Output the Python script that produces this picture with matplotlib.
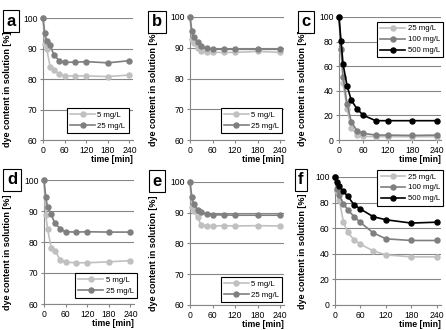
import matplotlib
matplotlib.use("Agg")
import matplotlib.pyplot as plt

plt.rcParams['font.family'] = ['Liberation Sans', 'DejaVu Sans']

W, H = 446, 330
t = [0, 5, 10, 20, 30, 45, 60, 90, 120, 180, 240]
xticks = [0, 60, 120, 180, 240]

a_5 = [100, 91.5, 90, 84, 83, 81.5, 81, 81, 81, 80.8, 81.3]
a_25 = [100, 95, 92.5, 91, 88, 86, 85.5, 85.5, 85.7, 85.3, 86]
b_5 = [100, 93, 91.5, 90, 89, 88.5, 88.5, 88.5, 88.5, 88.8, 88.5]
b_25 = [100, 95.5, 93.5, 92, 90.5, 89.8, 89.5, 89.5, 89.5, 89.5, 89.5]
c_25 = [100, 73, 46, 25, 10, 4, 3, 2.7, 2.7, 2.7, 2.7]
c_100 = [100, 74, 51, 29, 15, 7, 5.4, 4, 4, 3.7, 4]
c_500 = [100, 80.5, 61.6, 43.8, 32.4, 24.9, 20, 15.7, 15.7, 15.7, 15.7]
d_5 = [100, 88.7, 84.1, 78.2, 77.2, 74.3, 73.5, 73.3, 73.3, 73.6, 74]
d_25 = [100, 94.4, 91.2, 89, 86, 84.3, 83.3, 83.2, 83.3, 83.2, 83.2]
e_5 = [100, 92, 90.5, 88.5, 86, 85.7, 85.7, 85.8, 85.7, 85.8, 85.7]
e_25 = [100, 95, 92.7, 91, 90.2, 89.5, 89.3, 89.3, 89.2, 89.2, 89.2]
f_25 = [100, 88.8, 82, 64.7, 56.7, 51, 47.5, 42.3, 39.2, 37.6, 37.6]
f_100 = [100, 91, 86, 79, 74.4, 69, 64.5, 56.4, 51.7, 50.4, 50.4]
f_500 = [100, 95.8, 92.7, 88.8, 84.9, 78.3, 75, 69, 66.6, 64, 64.7]

LIGHT = '#c0c0c0'
MID = '#7f7f7f'
DARK = '#000000'
GRID = '#868686'

fig = plt.figure(figsize=(W / 100, H / 100), dpi=100)


def make_ax(left, right, top, bottom):
    return fig.add_axes([left / W, 1 - bottom / H, (right - left) / W, (bottom - top) / H])


panels = [
    # letter, rect(px), ylim, yticks, series, legend loc, anchor, letter pos(px), ylabel right edge(px)
    ('a', (43, 133, 18, 140), (60, 100), [60, 70, 80, 90, 100],
     [('5 mg/L', a_5, LIGHT), ('25 mg/L', a_25, MID)], 'lower right', (0.95, 0.06), (11, 21), 12),
    ('b', (190, 284, 17, 140), (60, 100), [60, 70, 80, 90, 100],
     [('5 mg/L', b_5, LIGHT), ('25 mg/L', b_25, MID)], 'lower right', (0.98, 0.06), (157, 22), 158),
    ('c', (339, 441, 17, 140), (0, 100), [0, 20, 40, 60, 80, 100],
     [('25 mg/L', c_25, LIGHT), ('100 mg/L', c_100, MID), ('500 mg/L', c_500, DARK)],
     'upper right', (1.02, 0.96), (306, 22), 307),
    ('d', (44, 134, 180, 304), (60, 100), [60, 70, 80, 90, 100],
     [('5 mg/L', d_5, LIGHT), ('25 mg/L', d_25, MID)], 'lower right', (1.03, 0.05), (12, 180), 12),
    ('e', (190, 284, 182, 305), (60, 100), [60, 70, 80, 90, 100],
     [('5 mg/L', e_5, LIGHT), ('25 mg/L', e_25, MID)], 'lower right', (0.98, 0.025), (157, 181), 158),
    ('f', (335, 441, 177, 305), (0, 100), [0, 20, 40, 60, 80, 100],
     [('25 mg/L', f_25, LIGHT), ('100 mg/L', f_100, MID), ('500 mg/L', f_500, DARK)],
     'upper right', (1.02, 1.055), (301, 180), 307),
]

for letter, rect, ylim, yticks, series, loc, anchor, lpos, ylab_x in panels:
    left, right, top, bottom = rect
    ax = make_ax(*rect)
    ax.set_xlim(0, 250)
    ax.set_ylim(*ylim)
    ax.set_xticks(xticks)
    ax.set_yticks(yticks)
    ax.grid(axis='y', color=GRID, linewidth=0.8, zorder=0)
    ax.set_axisbelow(True)
    for s in ['top', 'right']:
        ax.spines[s].set_visible(False)
    for s in ['left', 'bottom']:
        ax.spines[s].set_color(GRID)
        ax.spines[s].set_linewidth(0.8)
    ax.tick_params(axis='both', direction='out', length=2.5, width=0.8, color=GRID,
                   labelsize=6.2, pad=1.5)
    for i, (lab, vals, col) in enumerate(series):
        ax.plot(t, vals, color=col, marker='o', markersize=3.6, linewidth=1.2,
                label=lab, clip_on=False, zorder=3 + i)
    leg = ax.legend(loc=loc, bbox_to_anchor=anchor, borderaxespad=0, fontsize=5.6,
                    frameon=True, fancybox=False, edgecolor='#000000', framealpha=1,
                    handlelength=3.2, handletextpad=0.3, borderpad=0.4, labelspacing=0.45)
    leg.get_frame().set_linewidth(0.8)
    ax.set_ylabel('dye content in solution [%]', fontsize=6.5, fontweight='bold')
    ax.yaxis.set_label_coords((ylab_x - left) / (right - left),
                              (bottom - ((top + bottom) / 2 + 10)) / (bottom - top))
    ax.set_xlabel('time [min]', fontsize=6.3, fontweight='bold', loc='right', labelpad=0.5)
    fig.text(lpos[0] / W, 1 - lpos[1] / H, letter, fontsize=12, fontweight='bold',
             ha='center', va='center',
             bbox=dict(boxstyle='square,pad=0.22', facecolor='white', edgecolor='black',
                       linewidth=0.8))

fig.savefig('out.png', dpi=100)
